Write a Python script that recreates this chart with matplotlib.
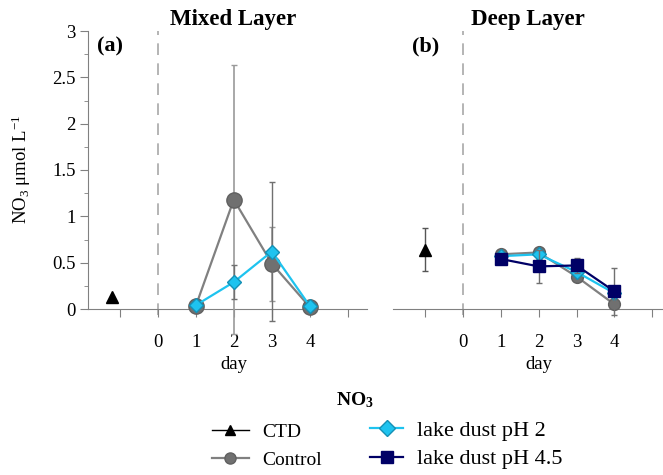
import matplotlib.pyplot as plt
from matplotlib.lines import Line2D

plt.rcParams['font.family'] = ['Liberation Serif', 'DejaVu Serif']
plt.rcParams['mathtext.fontset'] = 'custom'
plt.rcParams['mathtext.rm'] = 'Liberation Serif'
plt.rcParams['mathtext.it'] = 'Liberation Serif:italic'
plt.rcParams['mathtext.bf'] = 'Liberation Serif:bold'

# data
days = [1, 2, 3, 4]
ctd_day = -1.2

# mixed layer
mix_ctd = 0.13
mix_control = [0.03, 1.18, 0.49, 0.02]
mix_control_err = [0.02, 1.45, 0.40, 0.02]
mix_ph2 = [0.04, 0.29, 0.62, 0.03]
mix_ph2_err = [0.03, 0.18, 0.75, 0.04]

# deep layer
deep_ctd = 0.64
deep_ctd_err = 0.23
deep_control = [0.59, 0.61, 0.35, 0.05]
deep_control_err = [0.04, 0.05, 0.05, 0.05]
deep_ph2 = [0.57, 0.59, 0.40, 0.17]
deep_ph2_err = [0.03, 0.05, 0.05, 0.05]
deep_ph45 = [0.54, 0.46, 0.47, 0.19]
deep_ph45_err = [0.05, 0.18, 0.08, 0.25]

xtick_labels = ['', '0', '1', '2', '3', '4', '']

gray = '#808080'
cyan = '#1ec3ef'
navy = '#000066'
errc = '#9a9a9a'
axc = '#808080'

fig = plt.figure(figsize=(6.63, 4.75), dpi=100)
axA = fig.add_axes([88/663, 1-309/475, 279/663, 278/475])
axB = fig.add_axes([393.3/663, 1-309/475, 269.7/663, 278/475])


def style_axes(ax, show_y):
    ax.set_ylim(0, 3)
    for s in ['top', 'right']:
        ax.spines[s].set_visible(False)
    ax.spines['bottom'].set_color(axc)
    ax.spines['left'].set_color(axc)
    ax.set_xticks(range(-1, 6))
    ax.set_xticklabels(xtick_labels)
    ax.tick_params(axis='x', direction='out', length=6, color=axc,
                   labelsize=13.5, pad=12)
    if show_y:
        ax.set_yticks([0, 0.5, 1, 1.5, 2, 2.5, 3])
        ax.set_yticklabels(['0', '0.5', '1', '1.5', '2', '2.5', '3'])
        ax.set_yticks([0.25, 0.75, 1.25, 1.75, 2.25, 2.75], minor=True)
        ax.tick_params(axis='y', which='major', direction='out', length=6,
                       color=axc, labelsize=13.5, pad=3)
        ax.tick_params(axis='y', which='minor', direction='out', length=3,
                       color=axc)
    else:
        ax.spines['left'].set_visible(False)
        ax.set_yticks([])
    ax.plot([0, 0], [-0.06, 3], ls=(0, (7, 5)), color='#a8a8a8', lw=1.2,
            clip_on=False, zorder=1)
    ax.text(2, -0.2, 'day', transform=ax.get_xaxis_transform(),
            ha='center', va='center', fontsize=13.5)


# (a) mixed layer
axA.set_xlim(-1.83, 5.5)
style_axes(axA, True)
axA.plot([ctd_day], [mix_ctd], marker='^', color='black', ms=8, ls='none',
         clip_on=False, zorder=5)
axA.errorbar(days, mix_control, yerr=mix_control_err, color=gray, lw=1.6,
             marker='o', ms=11, mfc='#707070', mec='#606060',
             ecolor=errc, elinewidth=1.2, capsize=2, zorder=3)
axA.errorbar(days, mix_ph2, yerr=mix_ph2_err, color=cyan, lw=1.6,
             marker='D', ms=7.5, mfc=cyan, mec='#1590b5',
             ecolor='#707070', elinewidth=1.0, capsize=2, zorder=4)
axA.text(0.52, 1.04, 'Mixed Layer', transform=axA.transAxes, ha='center',
         va='center', fontsize=16.5, fontweight='bold')
axA.text(0.032, 0.946, '(a)', transform=axA.transAxes, ha='left',
         va='center', fontsize=16, fontweight='bold')
fig.text(21/663, 1-169.5/475, 'NO$_3$ μmol L$^{-1}$', rotation=90,
         ha='center', va='center', fontsize=13.5)

# (b) deep layer
axB.set_xlim(-1.83, 5.28)
style_axes(axB, False)
axB.errorbar([ctd_day + 0.2], [deep_ctd], yerr=[deep_ctd_err], color='black',
             marker='^', ms=8, ls='none', ecolor='#555555', elinewidth=1.0,
             capsize=2, zorder=5)
axB.errorbar(days, deep_control, yerr=deep_control_err, color=gray, lw=1.6,
             marker='o', ms=8.5, mfc='#707070', mec='#606060',
             ecolor='#707070', elinewidth=1.0, capsize=2, zorder=3)
axB.errorbar(days, deep_ph2, yerr=deep_ph2_err, color=cyan, lw=1.6,
             marker='D', ms=7, mfc=cyan, mec='#1590b5',
             ecolor='#707070', elinewidth=1.0, capsize=2, zorder=4)
axB.errorbar(days, deep_ph45, yerr=deep_ph45_err, color=navy, lw=1.6,
             marker='s', ms=9, mfc=navy, mec=navy,
             ecolor='#707070', elinewidth=1.0, capsize=2, zorder=5)
axB.text(0.5, 1.04, 'Deep Layer', transform=axB.transAxes, ha='center',
         va='center', fontsize=16.5, fontweight='bold')
axB.text(0.069, 0.946, '(b)', transform=axB.transAxes, ha='left',
         va='center', fontsize=16, fontweight='bold')

for ax in (axA, axB):
    for art in ax.get_children():
        try:
            art.set_clip_on(False)
        except AttributeError:
            pass

# legend
fig.text(355/663, 1-400/475, 'NO$_\\mathbf{3}$', ha='center', va='center',
         fontsize=14, fontweight='bold')
h_ctd = Line2D([], [], color='black', lw=1, marker='^', ms=7)
h_con = Line2D([], [], color=gray, lw=1.6, marker='o', ms=8, mfc='#707070',
               mec='#606060')
h_ph2 = Line2D([], [], color=cyan, lw=1.6, marker='D', ms=8, mfc=cyan,
               mec='#1590b5')
h_ph45 = Line2D([], [], color=navy, lw=1.6, marker='s', ms=8.5, mfc=navy,
                mec=navy)
fig.legend([h_ctd, h_con], ['CTD', 'Control'], loc='center left',
           bbox_to_anchor=(212/663, 1-446/475), frameon=False, fontsize=14,
           handlelength=1.9, handletextpad=0.7, labelspacing=0.55,
           borderpad=0, borderaxespad=0)
fig.legend([h_ph2, h_ph45], ['lake dust pH 2', 'lake dust pH 4.5'],
           loc='center left', bbox_to_anchor=(370/663, 1-445/475),
           frameon=False, fontsize=16, handlelength=1.5, handletextpad=0.6,
           labelspacing=0.35, borderpad=0, borderaxespad=0)

fig.savefig('out.png', dpi=100)
